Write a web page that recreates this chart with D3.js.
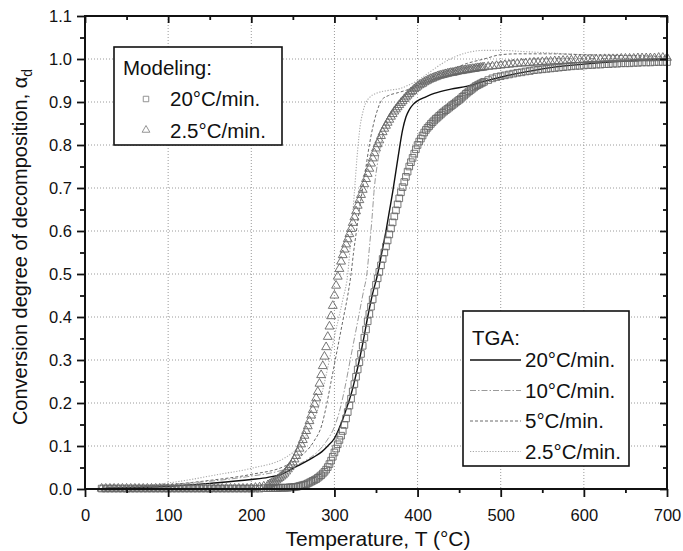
<!DOCTYPE html>
<html>
<head>
<meta charset="utf-8">
<script src="https://cdn.jsdelivr.net/npm/d3@7"></script>
<style>
  body { margin: 0; background: #fff; }
  svg text { font-family: "Liberation Sans", Arial, sans-serif; fill: #111; }
</style>
</head>
<body>
<div id="chart"></div>
<script>
// sample temperatures of the modeling curves (deg C)
const modelTemps = [
  20,25,30,35,40,45,50,55,60,65,70,75,80,85,90,95,100,105,110,115,120,125,130,135,140,145,150,155,160,165,170,175,180,185,190,195,200,205,210,215,220,
  222,224,226,228,230,232,234,236,238,240,242,244,246,248,250,252,254,256,258,260,262,264,266,268,270,272,274,276,278,280,
  282,284,286,288,290,292,294,296,298,300,302,304,306,308,310,312,314,316,318,320,322,324,326,328,330,332,334,336,338,340,
  342,344,346,348,350,352,354,356,358,360,362,364,366,368,370,372,374,376,378,380,382,384,386,388,390,392,394,396,398,400,
  402,404,406,408,410,412,414,416,418,420,422,424,426,428,430,432,434,436,438,440,442,444,446,448,450,452,454,456,458,460,
  462,464,466,468,470,472,474,476,478,480,
  485,490,495,500,505,510,515,520,525,530,535,540,545,550,555,560,565,570,575,580,585,590,595,600,605,610,615,620,625,630,
  635,640,645,650,655,660,665,670,675,680,685,690,695,700
];

// modeling, 20 C/min (squares)
const model20 = [
  0.001,0.001,0.001,0.001,0.001,0.001,0.001,0.001,0.001,0.001,0.001,0.001,0.001,0.001,0.001,0.001,0.001,0.001,0.001,0.001,
  0.001,0.001,0.001,0.001,0.001,0.001,0.001,0.001,0.001,0.001,0.001,0.001,0.001,0.001,0.001,0.001,0.001,0.001,0.001,0.002,0.002,
  0.002,0.002,0.002,0.002,0.002,0.002,0.003,0.003,0.003,0.003,0.003,0.003,0.004,0.004,0.004,0.005,0.005,0.006,0.007,0.008,
  0.009,0.010,0.011,0.013,0.015,0.017,0.019,0.021,0.023,0.026,
  0.029,0.032,0.036,0.040,0.045,0.051,0.058,0.066,0.075,0.085,0.094,0.104,0.114,0.124,0.135,0.149,0.164,0.179,0.194,0.210,
  0.227,0.244,0.261,0.278,0.295,0.314,0.333,0.352,0.371,0.390,
  0.407,0.424,0.441,0.458,0.475,0.490,0.505,0.520,0.535,0.550,0.564,0.578,0.592,0.606,0.620,0.634,0.648,0.662,0.676,0.690,
  0.702,0.714,0.726,0.738,0.750,0.760,0.770,0.780,0.790,0.800,
  0.808,0.815,0.822,0.829,0.835,0.840,0.844,0.849,0.853,0.857,0.861,0.864,0.868,0.871,0.875,0.878,0.881,0.884,0.887,0.890,
  0.893,0.896,0.899,0.902,0.905,0.908,0.912,0.915,0.919,0.922,
  0.925,0.928,0.931,0.934,0.937,0.939,0.941,0.943,0.945,0.947,
  0.951,0.955,0.958,0.960,0.962,0.964,0.966,0.968,0.969,0.971,0.972,0.974,0.975,0.976,0.977,0.978,0.979,0.980,0.981,0.982,
  0.983,0.984,0.984,0.985,0.986,0.986,0.987,0.987,0.988,0.988,0.989,0.989,0.990,0.990,0.990,0.991,0.991,0.992,0.992,0.992,
  0.993,0.993,0.993,0.993
];

// modeling, 2.5 C/min (triangles)
const model25 = [
  0.001,0.001,0.001,0.001,0.001,0.001,0.001,0.001,0.001,0.001,0.001,0.001,0.001,0.001,0.001,0.001,0.001,0.001,0.001,0.001,
  0.001,0.001,0.001,0.001,0.001,0.001,0.001,0.001,0.001,0.001,0.001,0.001,0.001,0.001,0.001,0.001,0.002,0.003,0.004,0.006,0.009,
  0.011,0.013,0.015,0.017,0.020,0.023,0.026,0.029,0.032,0.036,0.041,0.046,0.051,0.056,0.062,0.069,0.077,0.085,0.094,0.104,
  0.114,0.124,0.135,0.146,0.158,0.171,0.184,0.197,0.211,0.226,
  0.245,0.265,0.286,0.308,0.330,0.354,0.378,0.402,0.426,0.450,0.473,0.494,0.512,0.529,0.544,0.557,0.569,0.581,0.593,0.605,
  0.619,0.632,0.646,0.659,0.672,0.684,0.696,0.709,0.721,0.733,
  0.745,0.757,0.769,0.781,0.792,0.802,0.811,0.821,0.830,0.838,0.845,0.852,0.859,0.866,0.872,0.878,0.883,0.888,0.893,0.898,
  0.902,0.907,0.911,0.915,0.919,0.923,0.926,0.930,0.933,0.936,
  0.939,0.941,0.943,0.946,0.948,0.950,0.952,0.954,0.955,0.957,0.958,0.960,0.961,0.962,0.963,0.964,0.965,0.966,0.967,0.968,
  0.968,0.969,0.970,0.971,0.972,0.972,0.973,0.974,0.974,0.975,
  0.976,0.976,0.977,0.977,0.978,0.979,0.979,0.980,0.980,0.981,
  0.982,0.983,0.984,0.985,0.986,0.987,0.988,0.989,0.990,0.990,0.991,0.992,0.992,0.993,0.994,0.994,0.995,0.995,0.996,0.996,
  0.997,0.997,0.998,0.998,0.998,0.999,0.999,0.999,1.000,1.000,1.000,1.000,1.001,1.001,1.001,1.001,1.002,1.002,1.002,1.002,
  1.002,1.003,1.003,1.003
];

// TGA, 20 C/min (solid)
const tga20T = [25,60,100,150,200,220,238,245,255,265,275,285,292,300,305,310,315,320,325,330,335,340,346,352,357,362,366,370,374,378,382,386,390,395,400,410,420,440,460,480,505,530,560,600,650,700];
const tga20A = [0.002,0.003,0.006,0.013,0.022,0.027,0.036,0.043,0.053,0.063,0.074,0.087,0.1,0.118,0.138,0.162,0.19,0.22,0.258,0.3,0.348,0.4,0.455,0.5,0.55,0.6,0.645,0.69,0.74,0.79,0.835,0.865,0.882,0.895,0.903,0.912,0.92,0.93,0.937,0.948,0.96,0.97,0.98,0.988,0.995,1.0];

// TGA, 10 C/min (dash-dot)
const tga10T = [25,60,100,150,200,230,250,265,280,290,300,306,312,319,325,330,335,339,342,345,348,352,356,362,370,380,395,415,440,460,490,540,600,700];
const tga10A = [0.002,0.005,0.01,0.018,0.03,0.04,0.052,0.066,0.087,0.11,0.145,0.18,0.23,0.3,0.36,0.41,0.46,0.5,0.56,0.625,0.7,0.76,0.805,0.845,0.88,0.905,0.93,0.95,0.97,0.98,0.99,1.0,1.001,1.002];

// TGA, 5 C/min (dashed)
const tga5T = [25,60,100,150,200,240,260,275,285,291,296,301,306,311,316,320,323,326.5,330,334,338,342,346,351,357,365,377,390,405,420,440,460,480,500,520,560,600,650,700];
const tga5A = [0.002,0.005,0.01,0.02,0.034,0.053,0.077,0.11,0.15,0.2,0.25,0.3,0.35,0.4,0.45,0.5,0.55,0.6,0.65,0.7,0.75,0.8,0.84,0.877,0.905,0.915,0.922,0.93,0.945,0.96,0.975,0.99,1.0,1.01,1.012,1.012,1.01,1.008,1.006];

// TGA, 2.5 C/min (dotted)
const tga25T = [25,50,78,100,118,158,200,240,250,260,270,280,290,300,310,316,320,324,328,331,334,337,342,350,365,380,390,400,415,430,445,460,480,500,530,560,600,650,700];
const tga25A = [0.003,0.005,0.009,0.014,0.019,0.033,0.048,0.072,0.085,0.105,0.14,0.185,0.265,0.355,0.44,0.5,0.59,0.69,0.79,0.845,0.875,0.895,0.91,0.92,0.927,0.932,0.94,0.95,0.97,0.99,1.005,1.015,1.02,1.02,1.017,1.014,1.01,1.008,1.005];

const xTicks = [0,100,200,300,400,500,600,700];
const xMinor = [50,150,250,350,450,550,650];
const yTicks = [0.0,0.1,0.2,0.3,0.4,0.5,0.6,0.7,0.8,0.9,1.0,1.1];
const yMinor = [0.05,0.15,0.25,0.35,0.45,0.55,0.65,0.75,0.85,0.95,1.05];
const xGrid = [100,200,300,400,500,600];
const yGrid = [0.1,0.2,0.3,0.4,0.5,0.6,0.7,0.8,0.9,1.0];

const margin = { top: 16, right: 16, bottom: 62, left: 85 },
      width = 683 - margin.left - margin.right,
      height = 551 - margin.top - margin.bottom;

const root = d3.select("#chart")
    .append("svg")
    .attr("width", 683)
    .attr("height", 551);

const svg = root.append("g")
    .attr("transform", `translate(${margin.left},${margin.top})`);

const x = d3.scaleLinear().domain([0, 700]).range([0, width]);
const y = d3.scaleLinear().domain([0, 1.1]).range([height, 0]);

// grid
svg.append("g").selectAll("line")
    .data(xGrid)
    .join("line")
    .attr("x1", d => x(d)).attr("x2", d => x(d))
    .attr("y1", 0).attr("y2", height)
    .attr("stroke", "#9a9a9a").attr("stroke-width", 1)
    .attr("stroke-dasharray", "1,2");

svg.append("g").selectAll("line")
    .data(yGrid)
    .join("line")
    .attr("x1", 0).attr("x2", width)
    .attr("y1", d => y(d)).attr("y2", d => y(d))
    .attr("stroke", "#9a9a9a").attr("stroke-width", 1)
    .attr("stroke-dasharray", "1,2");

// TGA lines
const line = d3.line()
    .x(d => x(d[0]))
    .y(d => y(d[1]))
    .curve(d3.curveMonotoneX);

const tgaSeries = [
    { T: tga25T, A: tga25A, color: "#a8a8a8", dash: "1.2,1.6", w: 1.1 },
    { T: tga5T, A: tga5A, color: "#6a6a6a", dash: "3,2", w: 1 },
    { T: tga10T, A: tga10A, color: "#9a9a9a", dash: "6,2,1.5,2", w: 1 },
    { T: tga20T, A: tga20A, color: "#111", dash: null, w: 1.4 }
];

tgaSeries.forEach(s => {
    svg.append("path")
        .datum(s.T.map((t, i) => [t, s.A[i]]))
        .attr("fill", "none")
        .attr("stroke", s.color)
        .attr("stroke-width", s.w)
        .attr("stroke-dasharray", s.dash)
        .attr("d", line);
});

// modeling markers
const squareSym = d3.symbol(d3.symbolSquare, 44);
const triSym = d3.symbol(d3.symbolTriangle, 34);

svg.append("g").selectAll("path")
    .data(modelTemps.map((t, i) => [t, model20[i]]))
    .join("path")
    .attr("transform", d => `translate(${x(d[0])},${y(d[1])})`)
    .attr("d", squareSym)
    .attr("fill", "none")
    .attr("stroke", "#666")
    .attr("stroke-width", 0.9);

svg.append("g").selectAll("path")
    .data(modelTemps.map((t, i) => [t, model25[i]]))
    .join("path")
    .attr("transform", d => `translate(${x(d[0])},${y(d[1])})`)
    .attr("d", triSym)
    .attr("fill", "none")
    .attr("stroke", "#666")
    .attr("stroke-width", 0.9);

// axes
function styleAxis(g, labels) {
    g.select(".domain").remove();
    g.selectAll(".tick line").attr("stroke", "#111").attr("stroke-width", 1.8);
    if (labels) g.selectAll("text").style("font-size", "16.5px").attr("fill", "#111");
}

svg.append("g")
    .attr("transform", `translate(0,${height})`)
    .call(d3.axisBottom(x).tickValues(xTicks).tickSize(8).tickPadding(12))
    .call(g => styleAxis(g, true));

svg.append("g")
    .attr("transform", `translate(0,${height})`)
    .call(d3.axisBottom(x).tickValues(xMinor).tickSize(4).tickFormat(""))
    .call(g => styleAxis(g, false));

svg.append("g")
    .call(d3.axisBottom(x).tickValues(xTicks).tickSize(7).tickFormat(""))
    .call(g => styleAxis(g, false));

svg.append("g")
    .call(d3.axisBottom(x).tickValues(xMinor).tickSize(4).tickFormat(""))
    .call(g => styleAxis(g, false));

svg.append("g")
    .call(d3.axisLeft(y).tickValues(yTicks).tickSize(8).tickPadding(5).tickFormat(d3.format(".1f")))
    .call(g => styleAxis(g, true));

svg.append("g")
    .call(d3.axisLeft(y).tickValues(yMinor).tickSize(5).tickFormat(""))
    .call(g => styleAxis(g, false));

svg.append("g")
    .attr("transform", `translate(${width},0)`)
    .call(d3.axisLeft(y).tickValues(yTicks).tickSize(7).tickFormat(""))
    .call(g => styleAxis(g, false));

svg.append("g")
    .attr("transform", `translate(${width},0)`)
    .call(d3.axisLeft(y).tickValues(yMinor).tickSize(4).tickFormat(""))
    .call(g => styleAxis(g, false));

svg.append("rect")
    .attr("x", 0).attr("y", 0)
    .attr("width", width).attr("height", height)
    .attr("fill", "none")
    .attr("stroke", "#111")
    .attr("stroke-width", 2);

// axis titles
root.append("text")
    .attr("x", 378)
    .attr("y", 546)
    .attr("text-anchor", "middle")
    .style("font-size", "21px")
    .text("Temperature, T (°C)");

const yTitle = root.append("text")
    .attr("transform", `translate(27,247) rotate(-90)`)
    .attr("text-anchor", "middle")
    .style("font-size", "20px");
yTitle.append("tspan").text("Conversion degree of decomposition, α");
yTitle.append("tspan").attr("dy", 5).style("font-size", "14px").text("d");

// legend: modeling
const leg1 = root.append("g").attr("transform", "translate(114,47)");
leg1.append("rect")
    .attr("width", 168).attr("height", 98)
    .attr("fill", "#fff").attr("stroke", "#111").attr("stroke-width", 1.6);
leg1.append("text").attr("x", 9).attr("y", 28).style("font-size", "20.5px").text("Modeling:");
leg1.append("path")
    .attr("transform", "translate(32,52)")
    .attr("d", d3.symbol(d3.symbolSquare, 30))
    .attr("fill", "none").attr("stroke", "#888").attr("stroke-width", 0.9);
leg1.append("text").attr("x", 56).attr("y", 59).style("font-size", "20.5px").text("20°C/min.");
leg1.append("path")
    .attr("transform", "translate(32,83)")
    .attr("d", d3.symbol(d3.symbolTriangle, 26))
    .attr("fill", "none").attr("stroke", "#888").attr("stroke-width", 0.9);
leg1.append("text").attr("x", 56).attr("y", 91).style("font-size", "20.5px").text("2.5°C/min.");

// legend: TGA
const tgaLabels = ["20°C/min.", "10°C/min.", "5°C/min.", "2.5°C/min."];
const tgaLegendStyle = [tgaSeries[3], tgaSeries[2], tgaSeries[1], tgaSeries[0]];
const leg2 = root.append("g").attr("transform", "translate(463,311)");
leg2.append("rect")
    .attr("width", 166).attr("height", 155)
    .attr("fill", "#fff").attr("stroke", "#111").attr("stroke-width", 1.6);
leg2.append("text").attr("x", 9).attr("y", 34).style("font-size", "20.5px").text("TGA:");
tgaLabels.forEach((lab, i) => {
    const yy = 56 + i * 30.5;
    const s = tgaLegendStyle[i];
    leg2.append("line")
        .attr("x1", 7).attr("x2", 58)
        .attr("y1", yy - 7).attr("y2", yy - 7)
        .attr("stroke", s.color).attr("stroke-width", s.w)
        .attr("stroke-dasharray", s.dash);
    leg2.append("text").attr("x", 62).attr("y", yy).style("font-size", "20.5px").text(lab);
});
</script>
</body>
</html>
